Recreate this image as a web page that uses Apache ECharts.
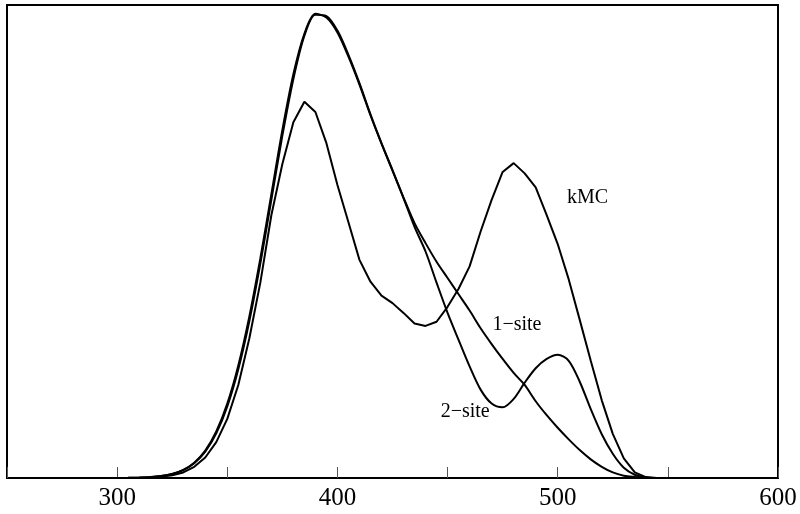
<!DOCTYPE html>
<html>
<head>
<meta charset="utf-8">
<script src="https://cdn.jsdelivr.net/npm/echarts@6/dist/echarts.min.js"></script>
<style>
  html, body { margin: 0; padding: 0; background: #fff; }
  #chart { width: 800px; height: 514px; }
</style>
</head>
<body>
<div id="chart"></div>
<script>
// wavelength grid, step 5
const xs = [280, 285, 290, 295, 300, 305, 310, 315, 320, 325, 330, 335, 340, 345, 350,
  355, 360, 365, 370, 375, 380, 385, 390, 395, 400, 405, 410, 415, 420, 425, 430,
  435, 440, 445, 450, 455, 460, 465, 470, 475, 480, 485, 490, 495, 500, 505, 510,
  515, 520, 525, 530, 535, 540, 545, 550, 555, 560];

const oneSite = [0, 0, 0, 0, 0.0001, 0.0003, 0.0008, 0.0019, 0.0043, 0.0088, 0.0175, 0.033,
  0.059, 0.1, 0.16, 0.242, 0.347, 0.472, 0.61, 0.748, 0.868, 0.955, 0.998, 0.99,
  0.958, 0.906, 0.846, 0.78, 0.719, 0.661, 0.603, 0.548, 0.505, 0.465, 0.43, 0.395,
  0.36, 0.322, 0.288, 0.256, 0.226, 0.2, 0.165, 0.135, 0.108, 0.083, 0.06, 0.04,
  0.024, 0.012, 0.005, 0.002, 0, 0, 0, 0, 0];

const twoSite = [0, 0, 0, 0, 0.0001, 0.0003, 0.0008, 0.0018, 0.0041, 0.0085, 0.0169, 0.0317,
  0.0566, 0.096, 0.154, 0.234, 0.337, 0.461, 0.598, 0.736, 0.858, 0.951, 0.996, 0.993,
  0.962, 0.91, 0.849, 0.782, 0.72, 0.662, 0.602, 0.54, 0.487, 0.42, 0.355, 0.297,
  0.24, 0.19, 0.16, 0.152, 0.17, 0.205, 0.236, 0.256, 0.265, 0.252, 0.207, 0.148,
  0.094, 0.052, 0.022, 0.007, 0.001, 0, 0, 0, 0];

const kmc = [0, 0, 0, 0, 0, 0.0002, 0.0005, 0.0012, 0.0028, 0.0057, 0.012, 0.024,
  0.044, 0.077, 0.127, 0.2, 0.3, 0.42, 0.565, 0.675, 0.765, 0.809, 0.787, 0.72,
  0.63, 0.55, 0.469, 0.422, 0.392, 0.376, 0.355, 0.332, 0.327, 0.336, 0.368, 0.407,
  0.455, 0.53, 0.598, 0.658, 0.677, 0.655, 0.625, 0.565, 0.503, 0.427, 0.34, 0.252,
  0.167, 0.095, 0.042, 0.012, 0.002, 0, 0, 0, 0];

const tickLabels = ['300', '400', '500', '600'];

// curve labels: [text, x, y]
const curveLabels = [
  ['kMC', 513.5, 0.602],
  ['1\u2212site', 481.5, 0.33],
  ['2\u2212site', 458, 0.142]
];

const pairs = (ys) => xs.map((x, i) => [x, ys[i]]);
const serif = 'Liberation Serif';

let chart = echarts.init(document.getElementById('chart'));

let lineBase = {
  type: 'line',
  showSymbol: false,
  lineStyle: { color: '#000', width: 2 },
  itemStyle: { color: '#000' },
  silent: true
};

let option = {
  animation: false,
  backgroundColor: '#fff',
  grid: {
    left: 7, right: 22, top: 5, bottom: 36,
    show: true, borderColor: '#000', borderWidth: 2
  },
  xAxis: {
    type: 'value',
    min: 250, max: 600, interval: 50,
    axisLine: { lineStyle: { color: '#000', width: 2 } },
    axisTick: { inside: true, length: 11, lineStyle: { color: '#555', width: 1 } },
    axisLabel: {
      margin: 8,
      color: '#000',
      fontFamily: serif,
      fontSize: 25,
      formatter: (v) => tickLabels.indexOf(String(v)) >= 0 ? String(v) : ''
    },
    splitLine: { show: false }
  },
  yAxis: {
    type: 'value',
    min: 0, max: 1.017,
    show: false
  },
  series: [
    Object.assign({}, lineBase, { name: '1-site', smooth: 0.3, data: pairs(oneSite) }),
    Object.assign({}, lineBase, { name: '2-site', smooth: 0.3, data: pairs(twoSite) }),
    Object.assign({}, lineBase, {
      name: 'kMC', smooth: false, data: pairs(kmc),
      markPoint: {
        symbol: 'circle', symbolSize: 0,
        label: {
          show: true, position: 'inside', color: '#000',
          fontFamily: serif, fontSize: 20,
          formatter: (p) => p.name
        },
        data: curveLabels.map((c) => ({ name: c[0], coord: [c[1], c[2]] }))
      }
    })
  ]
};

option && chart.setOption(option);
</script>
</body>
</html>
